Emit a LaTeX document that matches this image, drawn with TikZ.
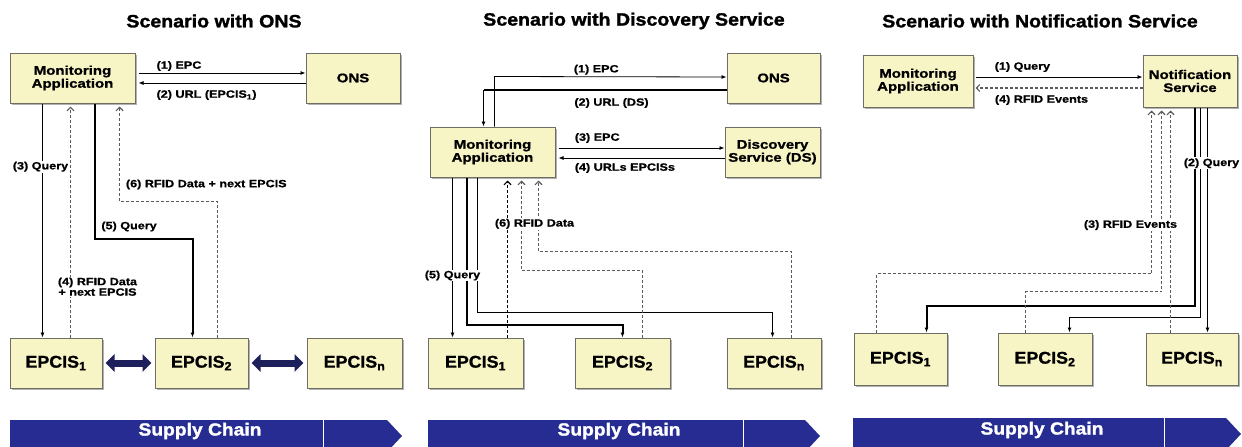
\documentclass[tikz,border=0pt]{standalone}
\usepackage{fontspec}
\setmainfont{Liberation Sans}[FakeStretch=1.2, BoldFeatures={FakeBold=1.0}]
\newfontfamily\midfont{Liberation Sans}[FakeStretch=1.1, BoldFeatures={FakeBold=1.5}]
\newfontfamily\epcfont{Liberation Sans}[FakeStretch=1.05, BoldFeatures={FakeBold=1.0}]
\usetikzlibrary{arrows.meta,shadows}

\definecolor{boxfill}{RGB}{247,244,198}
\definecolor{boxline}{RGB}{110,110,100}
\definecolor{dgray}{RGB}{90,90,90}
\definecolor{navy}{RGB}{30,32,92}
\definecolor{scblue}{RGB}{38,44,145}

\tikzset{
  box/.style={draw=boxline, line width=1pt, fill=boxfill, align=center, inner sep=1pt,
    drop shadow={shadow xshift=2.2pt, shadow yshift=-2.2pt, fill=black!60, opacity=0.5},
    font=\fontsize{12.5}{13}\selectfont\bfseries},
  epcis/.style={box, font=\epcfont\fontsize{17}{18}\selectfont\bfseries},
  title/.style={font=\midfont\fontsize{17.8}{20}\selectfont\bfseries, inner sep=0pt},
  sctext/.style={text=white, font=\midfont\fontsize{17.5}{19}\selectfont\bfseries, inner sep=0pt},
  lbl/.style={fill=white, inner sep=1pt, font=\fontsize{10.5}{10.5}\selectfont\bfseries, align=center},
  sl/.style={draw=black, line width=0.8pt, -{Latex[length=5pt,width=4pt]}},
  med/.style={sl, line width=1.3pt},
  thk/.style={sl, line width=2pt},
  dsh/.style={draw=dgray, line width=1.1pt, dash pattern=on 3pt off 2pt,
    -{Straight Barb[length=3.5pt,width=7pt,line width=1.1pt]}},
  dshk/.style={dsh, draw=black},
  dbl/.style={draw=navy, line width=7pt, {Triangle[length=9pt,width=17pt]}-{Triangle[length=9pt,width=17pt]}},
}

\begin{document}
\begin{tikzpicture}[x=1pt,y=-1pt]
\useasboundingbox (0,0) rectangle (1242,447);
\fill[white] (0,0) rectangle (1242,447);

% ---------------- titles ----------------
\node[title] (t1) at (214,21) {Scenario with ONS};
\node[title] (t2) at (634,21) {Scenario with Discovery Service};
\node[title] (t3) at (1040,21) {Scenario with Notification Service};

% ================= scenario with ONS =================
\node[box, minimum width=125pt, minimum height=50pt] (MA1) at (72.5,78) {Monitoring\\Application};
\node[box, minimum width=94pt, minimum height=50pt] (ONS1) at (353,78) {ONS};
\node[epcis, minimum width=92pt, minimum height=50pt] (E11) at (56,363) {EPCIS\textsubscript{1}};
\node[epcis, minimum width=93pt, minimum height=50pt] (E12) at (201.5,363) {EPCIS\textsubscript{2}};
\node[epcis, minimum width=95pt, minimum height=50pt] (E1n) at (354.5,363) {EPCIS\textsubscript{n}};

\draw[sl] ([xshift=3pt,yshift=5pt]MA1.east) -- node[lbl,pos=0.1,anchor=west,yshift=7pt]{(1) EPC} ([yshift=5pt]ONS1.west);
\draw[sl] ([yshift=-5pt]ONS1.west) -- node[lbl,pos=0.9,anchor=west,yshift=-12pt]{(2) URL (EPCIS\textsubscript{1})} ([xshift=3pt,yshift=-5pt]MA1.east);
\draw[sl] ([xshift=33pt]MA1.south west) -- node[lbl,pos=0.27,xshift=-2pt]{(3) Query} ([xshift=33pt]E11.north west);
\draw[dsh] ([xshift=61pt]E11.north west) -- node[lbl,pos=0.22,xshift=27pt]{(4) RFID Data\\+ next EPCIS} ([xshift=61pt,yshift=-3pt]MA1.south west);
\draw[thk] ([xshift=85pt]MA1.south west) -- ++(0,135) -- node[lbl,pos=0.05,anchor=west,yshift=12pt]{(5) Query} ++(98,0) -- ([xshift=38pt]E12.north west);
\draw[dsh] ([xshift=63pt]E12.north west) -- ++(0,-136) -- node[lbl,pos=0.95,anchor=west,yshift=17pt]{(6) RFID Data + next EPCIS} ++(-98,0) -- ([xshift=110pt,yshift=-3pt]MA1.south west);

\draw[dbl] ([xshift=3pt]E11.east) -- ([xshift=-3pt]E12.west);
\draw[dbl] ([xshift=3pt]E12.east) -- ([xshift=-3pt]E1n.west);

\fill[scblue] (10,420) -- (387,420) -- (402,436) -- (387,452) -- (10,452) -- cycle;
\draw[white, line width=1pt] (323.5,420) -- (323.5,452);
\node[sctext] (sc1) at (200,431) {Supply Chain};

% ================= scenario with discovery service =================
\node[box, minimum width=125pt, minimum height=50pt] (MA2) at (492.5,152) {Monitoring\\Application};
\node[box, minimum width=93pt, minimum height=50pt] (ONS2) at (773.5,78) {ONS};
\node[box, minimum width=95pt, minimum height=50pt] (DS2) at (772.5,152) {Discovery\\Service (DS)};
\node[epcis, minimum width=95pt, minimum height=50pt] (E21) at (475.5,363) {EPCIS\textsubscript{1}};
\node[epcis, minimum width=95pt, minimum height=50pt] (E22) at (622.5,363) {EPCIS\textsubscript{2}};
\node[epcis, minimum width=94pt, minimum height=50pt] (E2n) at (774,363) {EPCIS\textsubscript{n}};

\draw[sl] ([xshift=65pt]MA2.north west) -- ++(0,-50) -- node[lbl,pos=0.336,anchor=west,yshift=7pt]{(1) EPC} ([yshift=1pt]ONS2.west);
\draw[sl] ([yshift=-12pt]ONS2.west) -- ++(-243,0) -- ([xshift=54pt]MA2.north west);
\draw[line width=2pt] ([yshift=-12pt]ONS2.west) -- node[lbl,pos=0.634,anchor=west,yshift=-13pt]{(2) URL (DS)} ++(-243,0);
\draw[sl] ([xshift=3pt,yshift=4pt]MA2.east) -- node[lbl,pos=0.09,anchor=west,yshift=10pt]{(3) EPC} ([yshift=4pt]DS2.west);
\draw[sl] ([yshift=-6pt]DS2.west) -- node[lbl,pos=0.91,anchor=west,yshift=-10pt]{(4) URLs EPCISs} ([xshift=3pt,yshift=-6pt]MA2.east);

\draw[sl] ([xshift=23pt]MA2.south west) -- ([xshift=25pt]E21.north west);
\draw[thk] ([xshift=37pt]MA2.south west) -- ++(0,147) -- ++(156,0) -- ([xshift=48pt]E22.north west);
\draw[sl] ([xshift=48pt]MA2.south west) -- node[lbl,pos=0.726,xshift=-25pt]{(5) Query} ++(0,135) -- ++(295,0) -- ([xshift=46pt]E2n.north west);

\draw[dshk] ([xshift=80pt]E21.north west) -- ([xshift=78pt,yshift=-3pt]MA2.south west);
\draw[dsh] ([xshift=68pt]E22.north west) -- ++(0,-67) -- ++(-121,0) -- ([xshift=92pt,yshift=-3pt]MA2.south west);
\draw[dsh] ([xshift=65pt]E2n.north west) -- ++(0,-86) -- ++(-253,0) -- node[lbl,pos=0.39,xshift=-4pt]{(6) RFID Data} ([xshift=109pt,yshift=-3pt]MA2.south west);

\fill[scblue] (428,420) -- (805,420) -- (820,436) -- (805,452) -- (428,452) -- cycle;
\draw[white, line width=1pt] (743.5,420) -- (743.5,452);
\node[sctext] (sc2) at (619,431) {Supply Chain};

% ================= scenario with notification service =================
\node[box, minimum width=110pt, minimum height=52pt] (MA3) at (918,81) {Monitoring\\Application};
\node[box, minimum width=94pt, minimum height=52pt] (NS3) at (1190,81) {Notification\\Service};
\node[epcis, minimum width=93pt, minimum height=52pt] (E31) at (900.5,359) {EPCIS\textsubscript{1}};
\node[epcis, minimum width=94pt, minimum height=52pt] (E32) at (1045,359) {EPCIS\textsubscript{2}};
\node[epcis, minimum width=92pt, minimum height=52pt] (E3n) at (1192,359) {EPCIS\textsubscript{n}};

\draw[sl] ([xshift=2pt,yshift=4pt]MA3.east) -- node[lbl,pos=0.107,anchor=west,yshift=10pt]{(1) Query} ([yshift=4pt]NS3.west);
\draw[dsh] ([yshift=-7pt]NS3.west) -- node[lbl,pos=0.893,anchor=west,yshift=-12pt]{(4) RFID Events} ([xshift=2pt,yshift=-7pt]MA3.east);

\draw[thk] ([xshift=52pt]NS3.south west) -- ++(0,198) -- ++(-268,0) -- ([xshift=73pt]E31.north west);
\draw[med] ([xshift=58pt]NS3.south west) -- ++(0,210) -- ++(-131,0) -- ([xshift=72pt]E32.north west);
\draw[sl] ([xshift=65pt]NS3.south west) -- node[lbl,pos=0.248,xshift=4pt]{(2) Query} ([xshift=62pt]E3n.north west);

\draw[dsh] ([xshift=23pt]E31.north west) -- ++(0,-59) -- ++(275,0) -- ([xshift=9pt,yshift=-3pt]NS3.south west);
\draw[dsh] ([xshift=28pt]E32.north west) -- ++(0,-41) -- ++(136,0) -- ([xshift=19pt,yshift=-3pt]NS3.south west);
\draw[dsh] ([xshift=25pt]E3n.north west) -- node[lbl,pos=0.484,xshift=-40pt]{(3) RFID Events} ([xshift=28pt,yshift=-3pt]NS3.south west);

\fill[scblue] (853,418) -- (1226,418) -- (1241,434) -- (1226,450) -- (853,450) -- cycle;
\draw[white, line width=1pt] (1164.5,418) -- (1164.5,450);
\node[sctext] (sc3) at (1042,430) {Supply Chain};
\end{tikzpicture}
\end{document}
